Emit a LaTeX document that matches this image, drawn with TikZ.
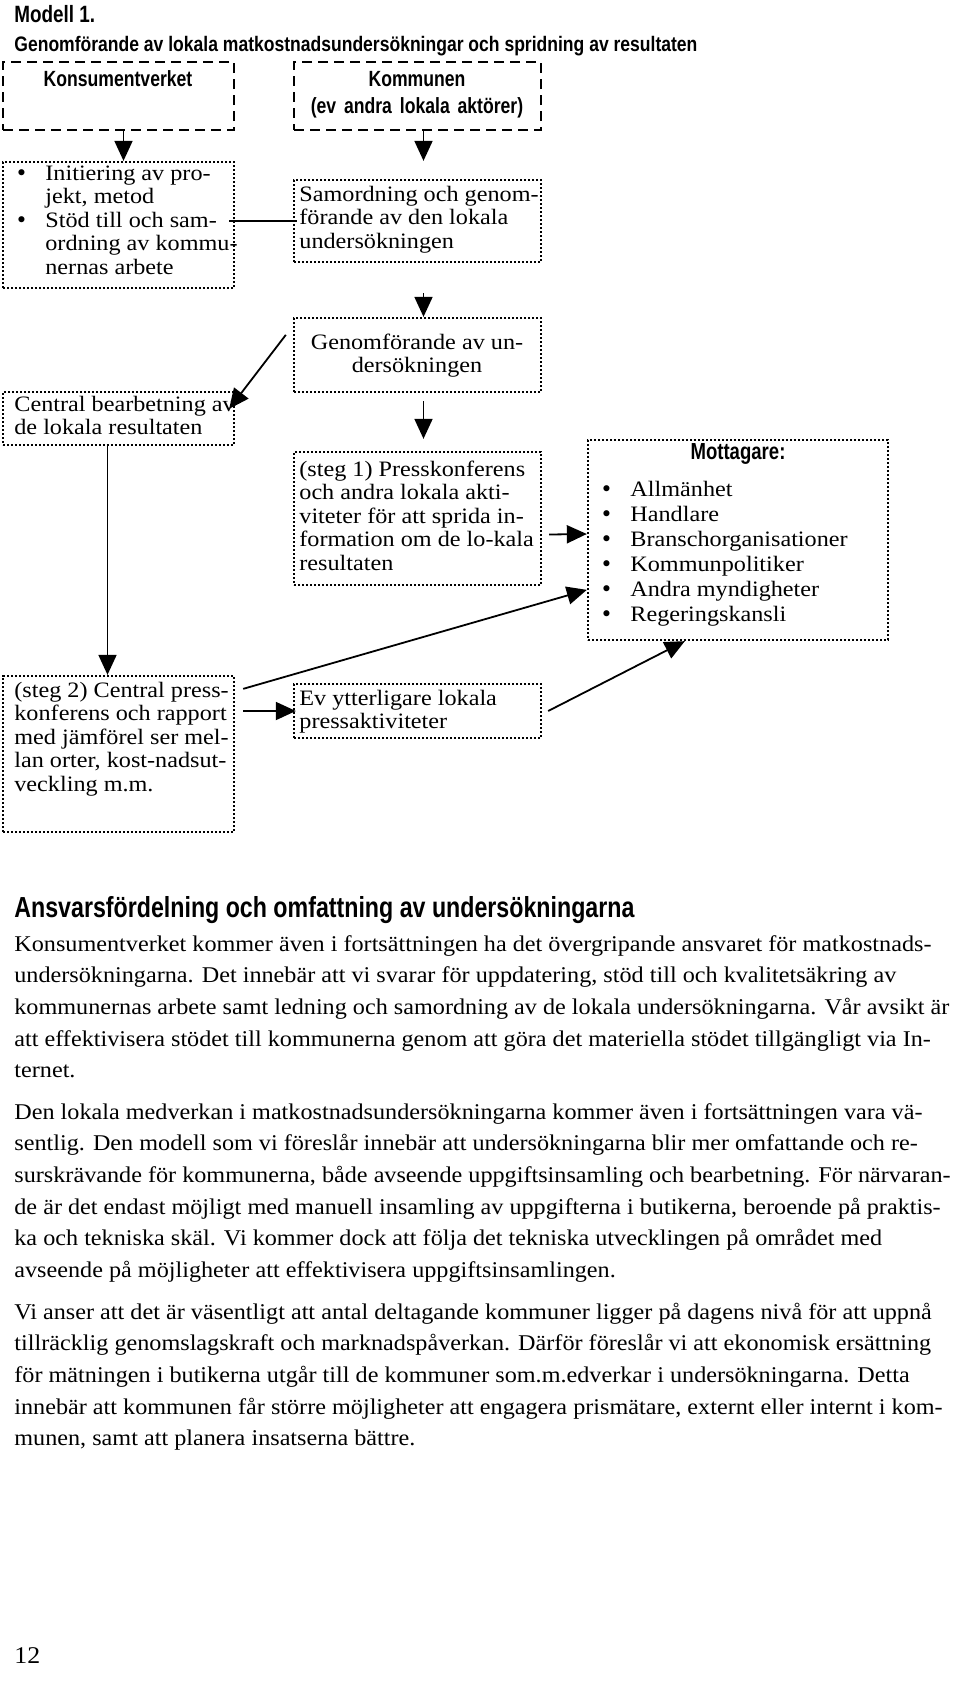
\documentclass[tikz,border=0pt]{standalone}
\usepackage{fontspec}
\setmainfont[FakeStretch=1.075]{Liberation Serif}
\newfontfamily\dgf[FakeStretch=1.1]{Liberation Serif}
\newfontfamily\csf[FakeStretch=0.8]{Liberation Sans}
\newfontfamily\csft[FakeStretch=0.835]{Liberation Sans}
\newfontfamily\bulf{DejaVu Sans}
\usetikzlibrary{arrows.meta,fit}
\newcommand\bul{\makebox[15pt][l]{{\bulf\fontsize{10.5pt}{10.5pt}\selectfont •}}}
\newcommand\wsp{\ \hspace{1.5pt}}
\tikzset{
  dashbox/.style={draw, line width=1.3pt, dash pattern=on 5pt off 3pt, inner sep=0pt},
  dotbox/.style={draw, line width=1.15pt, dash pattern=on 1.15pt off 0.85pt, inner sep=0pt},
  arr/.style={line width=0.9pt, -{Triangle[length=10pt,width=9pt]}},
  conn/.style={line width=0.9pt},
  dtext/.style={inner sep=0pt, anchor=base west, font=\dgf\fontsize{11pt}{11.75pt}\selectfont},
  mtext/.style={inner sep=0pt, anchor=base west, font=\dgf\fontsize{11pt}{12.5pt}\selectfont},
  stitle/.style={inner sep=0pt, font=\csf\bfseries\fontsize{11pt}{13.5pt}\selectfont},
  btext/.style={inner sep=0pt, anchor=base west, font=\fontsize{11.25pt}{15.85pt}\selectfont},
}
\begin{document}
\begin{tikzpicture}[x=0.5pt,y=-0.5pt]
\useasboundingbox (0,0) rectangle (960,1683);
% titles
\node[inner sep=0pt, anchor=base west, font=\csf\bfseries\fontsize{11.8pt}{14pt}\selectfont] (modell) at (14,22) {Modell 1.};
\node[inner sep=0pt, anchor=base west, font=\csft\bfseries\fontsize{10.5pt}{12pt}\selectfont] (title) at (14,51) {Genomförande av lokala matkostnadsundersökningar och spridning av resultaten};
% header boxes
\node[dashbox, fit={(3,62) (234,130)}] (K1) {};
\node[stitle, anchor=base] (K1t) at (118,86) {Konsumentverket};
\node[dashbox, fit={(294,62) (541,130)}] (K2) {};
\node[stitle, anchor=base] (K2t) at (417,86) {Kommunen};
\node[stitle, anchor=base] (K2u) at (417,113) {(ev\wsp andra\wsp lokala\wsp aktörer)};
% left column
\node[dotbox, fit={(3,162) (234,288)}] (B1) {};
\node[dtext] (B1t) at (15,180) {\parbox[t]{200pt}{\raggedright
\bul Initiering av pro-\\
\hspace*{15pt}jekt, metod\\
\bul Stöd till och sam-\\
\hspace*{15pt}ordning av kommu-\\
\hspace*{15pt}nernas arbete}};
\node[dotbox, fit={(3,392) (234,445)}] (C) {};
\node[dtext] (Ct) at (14,411) {\parbox[t]{200pt}{\raggedright Central bearbetning av\\ de lokala resultaten}};
\node[dotbox, fit={(3,676) (234,832)}] (P2) {};
\node[dtext] (P2t) at (14,697) {\parbox[t]{200pt}{\raggedright (steg 2) Central press-\\ konferens och rapport\\ med jämförel ser mel-\\ lan orter, kost-nadsut-\\ veckling m.m.}};
% middle column
\node[dotbox, fit={(294,180) (541,262)}] (S) {};
\node[dtext] (St) at (299,201) {\parbox[t]{200pt}{\raggedright Samordning och genom-\\ förande av den lokala\\ undersökningen}};
\node[dotbox, fit={(294,318) (541,392)}] (G) {};
\node[dtext, anchor=base] (Gt) at (417,349) {\parbox[t]{200pt}{\centering Genomförande av un-\\ dersökningen}};
\node[dotbox, fit={(294,452) (541,585)}] (P1) {};
\node[dtext] (P1t) at (299,476) {\parbox[t]{200pt}{\raggedright (steg 1) Presskonferens\\ och andra lokala akti-\\ viteter för att sprida in-\\ formation om de lo-kala\\ resultaten}};
\node[dotbox, fit={(294,684) (541,738)}] (Ev) {};
\node[dtext] (Evt) at (299,705) {\parbox[t]{200pt}{\raggedright Ev ytterligare lokala\\ pressaktiviteter}};
% right column
\node[dotbox, fit={(588,440) (888,640)}] (M) {};
\node[inner sep=0pt, anchor=base, font=\csf\bfseries\fontsize{11.6pt}{13pt}\selectfont] (Mt) at (738,459) {Mottagare:};
\node[mtext] (Ml) at (600,496) {\parbox[t]{200pt}{\raggedright
\bul Allmänhet\\
\bul Handlare\\
\bul Branschorganisationer\\
\bul Kommunpolitiker\\
\bul Andra myndigheter\\
\bul Regeringskansli}};
% connectors
\draw[arr] ([xshift=2.5pt]K1.south) -- ([xshift=2.5pt]B1.north);
\draw[arr, shorten >=9pt] ([xshift=3pt]K2.south) -- ([xshift=3pt]S.north);
\draw[conn] ([xshift=-3pt]B1.east |- S.west) -- ([xshift=2pt]S.west);
\draw[arr, shorten <=15pt] ([xshift=3pt]S.south) -- ([xshift=3pt]G.north);
\draw[arr, shorten <=4pt, shorten >=6pt] ([xshift=3pt]G.south) -- ([xshift=3pt]P1.north);
\draw[arr] ([shift={(-7,18)}]G.north west) -- ([shift={(-6,18)}]C.north east);
\draw[arr] ([shift={(-11,0)}]C.south) -- ([shift={(-11,0)}]P2.north);
\draw[arr] ([shift={(7,16)}]P1.east) -- ([shift={(0,-6)}]M.west);
\draw[arr] ([shift={(8,14)}]P2.north east) -- ([shift={(0,151)}]M.north west);
\draw[arr] ([shift={(6,0)}]Ev.east) -- ([shift={(98,0)}]M.south west);
\draw[arr] ([shift={(8,0)}]P2.east |- Ev.west) -- ([shift={(3,0)}]Ev.west);
% body text
\node[inner sep=0pt, anchor=base west, font=\csf\bfseries\fontsize{14.5pt}{17pt}\selectfont] (head) at (14,917) {Ansvarsfördelning och omfattning av undersökningarna};
\node[btext] (para1) at (14,951) {\parbox[t]{600pt}{\raggedright
Konsumentverket kommer även i fortsättningen ha det övergripande ansvaret för matkostnads-\\
undersökningarna. Det innebär att vi svarar för uppdatering, stöd till och kvalitetsäkring av\\
kommunernas arbete samt ledning och samordning av de lokala undersökningarna. Vår avsikt är\\
att effektivisera stödet till kommunerna genom att göra det materiella stödet tillgängligt via In-\\
ternet.}};
\node[btext] (para2) at (14,1119) {\parbox[t]{600pt}{\raggedright
Den lokala medverkan i matkostnadsundersökningarna kommer även i fortsättningen vara vä-\\
sentlig. Den modell som vi föreslår innebär att undersökningarna blir mer omfattande och re-\\
surskrävande för kommunerna, både avseende uppgiftsinsamling och bearbetning. För närvaran-\\
de är det endast möjligt med manuell insamling av uppgifterna i butikerna, beroende på praktis-\\
ka och tekniska skäl. Vi kommer dock att följa det tekniska utvecklingen på området med\\
avseende på möjligheter att effektivisera uppgiftsinsamlingen.}};
\node[btext] (para3) at (14,1319) {\parbox[t]{600pt}{\raggedright
Vi anser att det är väsentligt att antal deltagande kommuner ligger på dagens nivå för att uppnå\\
tillräcklig genomslagskraft och marknadspåverkan. Därför föreslår vi att ekonomisk ersättning\\
för mätningen i butikerna utgår till de kommuner som.m.edverkar i undersökningarna. Detta\\
innebär att kommunen får större möjligheter att engagera prismätare, externt eller internt i kom-\\
munen, samt att planera insatserna bättre.}};
\node[inner sep=0pt, anchor=base west, font=\fontsize{12pt}{14pt}\selectfont] (pageno) at (14,1663) {12};
\end{tikzpicture}
\end{document}
